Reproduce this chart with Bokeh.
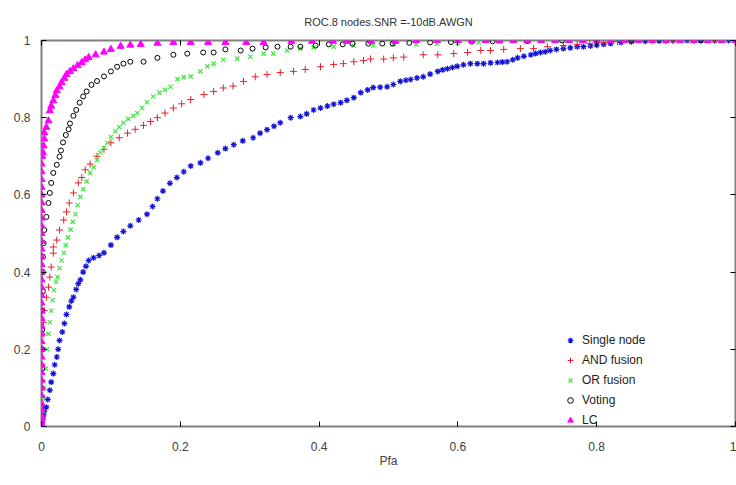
from bokeh.plotting import figure
from bokeh.models import Range1d, LinearAxis, Legend, LegendItem, FixedTicker
from bokeh.embed import file_html
from bokeh.resources import INLINE

title = "ROC.8 nodes.SNR =-10dB.AWGN"
x_label = "Pfa"
ticks = [0, 0.2, 0.4, 0.6, 0.8, 1]
tick_labels = {0: "0", 0.2: "0.2", 0.4: "0.4", 0.6: "0.6", 0.8: "0.8", 1: "1"}

single_pfa = [0, 0.001, 0.002, 0.003, 0.004, 0.007, 0.009, 0.012, 0.014, 0.017, 0.019, 0.022, 0.024, 0.026, 0.03, 0.033, 0.036, 0.04, 0.043, 0.046, 0.05, 0.053, 0.056, 0.06, 0.064, 0.068, 0.075, 0.083, 0.09, 0.1, 0.109, 0.118, 0.128, 0.14, 0.152, 0.16, 0.167, 0.175, 0.185, 0.195, 0.205, 0.215, 0.229, 0.24, 0.254, 0.265, 0.277, 0.29, 0.305, 0.315, 0.325, 0.335, 0.344, 0.359, 0.373, 0.382, 0.392, 0.402, 0.412, 0.421, 0.431, 0.44, 0.45, 0.46, 0.47, 0.478, 0.488, 0.498, 0.507, 0.517, 0.525, 0.532, 0.541, 0.55, 0.56, 0.571, 0.578, 0.585, 0.592, 0.599, 0.608, 0.618, 0.628, 0.637, 0.647, 0.657, 0.664, 0.671, 0.679, 0.686, 0.695, 0.705, 0.712, 0.719, 0.726, 0.733, 0.742, 0.752, 0.762, 0.772, 0.781, 0.791, 0.80, 0.81, 0.82, 0.835, 0.85, 0.87, 0.89, 0.91, 0.93, 0.95, 0.97, 0.99, 1.0]
single_pd = [0, 0.01, 0.02, 0.03, 0.04, 0.05, 0.07, 0.094, 0.115, 0.137, 0.16, 0.18, 0.2, 0.223, 0.245, 0.267, 0.29, 0.31, 0.325, 0.335, 0.355, 0.37, 0.38, 0.4, 0.415, 0.43, 0.437, 0.443, 0.45, 0.47, 0.49, 0.505, 0.52, 0.535, 0.55, 0.57, 0.59, 0.61, 0.63, 0.645, 0.66, 0.675, 0.683, 0.695, 0.709, 0.72, 0.73, 0.74, 0.748, 0.76, 0.769, 0.778, 0.787, 0.80, 0.803, 0.81, 0.82, 0.825, 0.83, 0.835, 0.839, 0.845, 0.852, 0.865, 0.872, 0.878, 0.879, 0.88, 0.886, 0.894, 0.897, 0.899, 0.903, 0.906, 0.913, 0.92, 0.924, 0.927, 0.93, 0.933, 0.937, 0.94, 0.94, 0.94, 0.942, 0.943, 0.944, 0.945, 0.95, 0.955, 0.959, 0.963, 0.966, 0.969, 0.971, 0.974, 0.977, 0.979, 0.981, 0.984, 0.984, 0.986, 0.988, 0.99, 0.992, 0.995, 0.997, 0.998, 0.999, 1.0, 1.0, 1.0, 1.0, 1.0, 1.0]

and_pfa = [0, 0, 0, 0.001, 0.001, 0.002, 0.002, 0.003, 0.004, 0.007, 0.01, 0.012, 0.014, 0.017, 0.017, 0.022, 0.026, 0.032, 0.036, 0.04, 0.046, 0.053, 0.058, 0.063, 0.07, 0.08, 0.09, 0.1, 0.112, 0.124, 0.135, 0.147, 0.157, 0.167, 0.178, 0.19, 0.202, 0.215, 0.234, 0.248, 0.262, 0.276, 0.291, 0.308, 0.325, 0.344, 0.363, 0.38, 0.402, 0.421, 0.435, 0.45, 0.464, 0.474, 0.493, 0.507, 0.522, 0.55, 0.571, 0.594, 0.614, 0.633, 0.647, 0.666, 0.69, 0.709, 0.729, 0.752, 0.772, 0.79, 0.81, 0.83, 0.85, 0.88, 0.91, 0.94, 0.97, 1.0]
and_pd = [0, 0.04, 0.08, 0.12, 0.16, 0.2, 0.24, 0.27, 0.3, 0.335, 0.361, 0.387, 0.413, 0.449, 0.465, 0.483, 0.509, 0.535, 0.556, 0.579, 0.605, 0.631, 0.645, 0.665, 0.68, 0.70, 0.718, 0.735, 0.748, 0.76, 0.77, 0.78, 0.79, 0.80, 0.812, 0.825, 0.836, 0.847, 0.86, 0.868, 0.877, 0.882, 0.894, 0.906, 0.912, 0.917, 0.92, 0.925, 0.932, 0.938, 0.94, 0.945, 0.948, 0.952, 0.952, 0.955, 0.957, 0.963, 0.963, 0.966, 0.969, 0.974, 0.974, 0.977, 0.979, 0.979, 0.984, 0.987, 0.99, 0.992, 0.995, 0.997, 0.998, 1.0, 1.0, 1.0, 1.0, 1.0]

or_pfa = [0, 0.001, 0.002, 0.003, 0.004, 0.006, 0.008, 0.01, 0.012, 0.014, 0.016, 0.018, 0.021, 0.023, 0.026, 0.029, 0.032, 0.035, 0.038, 0.042, 0.045, 0.049, 0.052, 0.056, 0.06, 0.065, 0.07, 0.075, 0.08, 0.085, 0.09, 0.095, 0.1, 0.106, 0.112, 0.118, 0.125, 0.132, 0.138, 0.145, 0.152, 0.161, 0.17, 0.178, 0.186, 0.196, 0.205, 0.215, 0.229, 0.239, 0.248, 0.262, 0.282, 0.301, 0.32, 0.334, 0.354, 0.373, 0.392, 0.421, 0.45, 0.478, 0.507, 0.54, 0.57, 0.6, 0.63, 0.66, 0.7, 0.74, 0.78, 0.82, 0.86, 0.9, 0.94, 0.98, 1.0]
or_pd = [0, 0.02, 0.04, 0.07, 0.1, 0.15, 0.2, 0.24, 0.27, 0.3, 0.327, 0.353, 0.375, 0.387, 0.41, 0.43, 0.45, 0.47, 0.49, 0.51, 0.53, 0.55, 0.574, 0.595, 0.615, 0.635, 0.657, 0.672, 0.69, 0.71, 0.722, 0.735, 0.75, 0.765, 0.776, 0.787, 0.797, 0.805, 0.812, 0.825, 0.84, 0.855, 0.865, 0.872, 0.88, 0.90, 0.905, 0.907, 0.92, 0.933, 0.94, 0.95, 0.953, 0.958, 0.966, 0.966, 0.974, 0.979, 0.982, 0.984, 0.987, 0.987, 0.99, 0.99, 0.992, 0.993, 0.995, 0.996, 0.997, 0.998, 0.999, 1.0, 1.0, 1.0, 1.0, 1.0, 1.0]

vote_pfa = [0, 0, 0, 0.001, 0.001, 0.001, 0.001, 0.002, 0.002, 0.002, 0.003, 0.004, 0.007, 0.01, 0.012, 0.014, 0.017, 0.022, 0.026, 0.028, 0.031, 0.035, 0.039, 0.041, 0.046, 0.05, 0.055, 0.06, 0.065, 0.072, 0.08, 0.09, 0.1, 0.109, 0.118, 0.128, 0.147, 0.167, 0.19, 0.21, 0.233, 0.248, 0.265, 0.287, 0.304, 0.323, 0.34, 0.359, 0.373, 0.395, 0.414, 0.434, 0.448, 0.471, 0.491, 0.506, 0.53, 0.56, 0.59, 0.62, 0.65, 0.7, 0.75, 0.8, 0.85, 0.9, 0.95, 1.0]
vote_pd = [0, 0.05, 0.1, 0.15, 0.2, 0.25, 0.3, 0.35, 0.4, 0.44, 0.475, 0.509, 0.543, 0.579, 0.605, 0.631, 0.657, 0.678, 0.699, 0.715, 0.736, 0.755, 0.77, 0.785, 0.805, 0.82, 0.839, 0.855, 0.868, 0.885, 0.895, 0.907, 0.92, 0.932, 0.94, 0.945, 0.945, 0.955, 0.963, 0.966, 0.969, 0.969, 0.977, 0.974, 0.979, 0.982, 0.984, 0.984, 0.984, 0.987, 0.99, 0.99, 0.992, 0.992, 0.992, 0.992, 0.994, 0.995, 0.996, 0.997, 0.998, 0.999, 1.0, 1.0, 1.0, 1.0, 1.0, 1.0]

lc_pfa = [0, 0, 0, 0, 0, 0, 0, 0, 0, 0, 0, 0, 0, 0, 0, 0, 0, 0, 0, 0, 0, 0, 0, 0, 0, 0, 0, 0, 0, 0, 0, 0, 0, 0, 0, 0, 0, 0.001, 0.002, 0.003, 0.004, 0.004, 0.007, 0.01, 0.012, 0.014, 0.017, 0.02, 0.022, 0.026, 0.029, 0.033, 0.036, 0.041, 0.046, 0.052, 0.058, 0.063, 0.068, 0.078, 0.09, 0.1, 0.114, 0.128, 0.143, 0.167, 0.19, 0.215, 0.24, 0.265, 0.295, 0.32, 0.36, 0.39, 0.42, 0.44, 0.475, 0.51, 0.54, 0.57, 0.6, 0.62, 0.64, 0.66, 0.68, 0.7, 0.72, 0.74, 0.76, 0.78, 0.8, 0.82, 0.84, 0.86, 0.88, 0.9, 0.92, 0.94, 0.96, 0.98, 1.0]
lc_pd = [0.0, 0.01, 0.02, 0.03, 0.045, 0.06, 0.08, 0.1, 0.12, 0.14, 0.16, 0.18, 0.2, 0.22, 0.24, 0.26, 0.28, 0.3, 0.32, 0.34, 0.36, 0.38, 0.4, 0.42, 0.44, 0.46, 0.48, 0.5, 0.52, 0.54, 0.56, 0.58, 0.6, 0.62, 0.64, 0.66, 0.68, 0.7, 0.71, 0.727, 0.745, 0.761, 0.775, 0.792, 0.818, 0.83, 0.844, 0.858, 0.87, 0.88, 0.891, 0.902, 0.912, 0.92, 0.927, 0.935, 0.943, 0.95, 0.956, 0.963, 0.97, 0.977, 0.985, 0.988, 0.99, 0.993, 0.995, 0.995, 0.995, 0.995, 0.995, 0.995, 0.998, 0.998, 0.998, 0.998, 0.998, 0.998, 1.0, 1.0, 1.0, 1.0, 1.0, 1.0, 1.0, 1.0, 1.0, 1.0, 1.0, 1.0, 1.0, 1.0, 1.0, 1.0, 1.0, 1.0, 1.0, 1.0, 1.0, 1.0, 1.0]

FONT = "Liberation Sans"
TXT = "#404040"

p = figure(width=736, height=470, output_backend="svg", toolbar_location=None,
           x_range=Range1d(0, 1), y_range=Range1d(0, 1), title=title,
           min_border_left=41, min_border_right=1, min_border_top=0, min_border_bottom=0,
           background_fill_color="white", border_fill_color="white")
p.title.align = "center"
p.title.text_font = FONT
p.title.text_font_size = "11px"
p.title.text_font_style = "normal"
p.title.text_color = "#333333"
p.title.standoff = 26

p.outline_line_color = "#808080"
p.outline_line_width = 2
p.grid.visible = False

for ax in (p.xaxis[0], p.yaxis[0]):
    ax.ticker = FixedTicker(ticks=ticks)
    ax.major_label_overrides = tick_labels
    ax.axis_line_color = None
    ax.major_tick_in = 5
    ax.major_tick_out = 0
    ax.major_tick_line_color = "black"
    ax.minor_tick_line_color = None
    ax.major_label_text_font = FONT
    ax.major_label_text_font_size = "12px"
    ax.major_label_text_color = TXT
p.xaxis[0].major_label_standoff = 15
p.yaxis[0].major_label_standoff = 11
p.xaxis[0].axis_label = x_label
p.xaxis[0].axis_label_text_font = FONT
p.xaxis[0].axis_label_text_font_size = "12px"
p.xaxis[0].axis_label_text_font_style = "normal"
p.xaxis[0].axis_label_text_color = TXT
p.xaxis[0].axis_label_standoff = 0

for side in ("right", "above"):
    ax = LinearAxis(ticker=FixedTicker(ticks=ticks))
    ax.axis_line_color = None
    ax.major_tick_in = 5
    ax.major_tick_out = 0
    ax.minor_tick_line_color = None
    ax.major_label_text_font_size = "0px"
    ax.major_label_text_color = None
    ax.major_label_standoff = 0
    p.add_layout(ax, side)

r1 = p.scatter(single_pfa, single_pd, marker="asterisk", size=6, line_color="#1414d8", line_width=1.2)
r2 = p.scatter(and_pfa, and_pd, marker="cross", size=7, line_color="#e8202a", line_width=1)
r3 = p.scatter(or_pfa, or_pd, marker="x", size=6, line_color="#3ee83e", line_width=1.2)
r4 = p.scatter(vote_pfa, vote_pd, marker="circle", size=5, line_color="black", fill_color=None, line_width=1)
r5 = p.scatter(lc_pfa, lc_pd, marker="triangle", size=7, line_color="#ff00ff", fill_color="#ff00ff")

legend = Legend(items=[LegendItem(label="Single node", renderers=[r1]),
                       LegendItem(label="AND fusion", renderers=[r2]),
                       LegendItem(label="OR fusion", renderers=[r3]),
                       LegendItem(label="Voting", renderers=[r4]),
                       LegendItem(label="LC", renderers=[r5])],
                location=(522, -4), background_fill_alpha=0, border_line_color=None,
                label_text_font=FONT, label_text_font_size="12px", label_text_color="#222222",
                label_height=20, glyph_height=14, glyph_width=14, spacing=0, margin=0, padding=0)
p.add_layout(legend)

open("out.html", "w").write(file_html(p, INLINE))
